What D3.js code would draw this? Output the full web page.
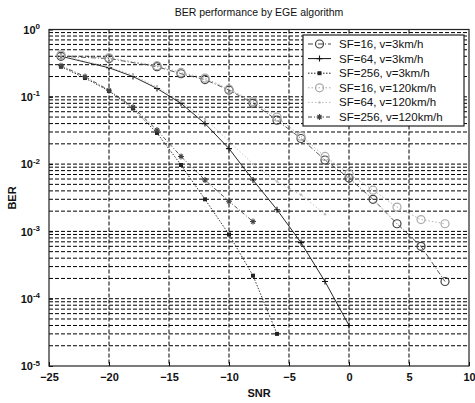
<!DOCTYPE html>
<html>
<head>
<meta charset="utf-8">
<script src="https://cdn.jsdelivr.net/npm/d3@7"></script>
<style>
  body { margin: 0; background: #fff; }
  text { font-family: "Liberation Sans", Arial, sans-serif; }
</style>
</head>
<body>
<svg id="svg1" width="475" height="403"></svg>
<script>
// data (SNR in dB, BER)
let snr16 = [-24, -20, -16, -14, -12, -10, -8, -6, -4, -2, 0, 2, 4, 6, 8];
let ber16slow = [0.40, 0.37, 0.28, 0.22, 0.18, 0.126, 0.08, 0.045, 0.024, 0.0115, 0.0062, 0.003, 0.0013, 0.0006, 0.00018];
let ber16fast = [0.42, 0.38, 0.29, 0.23, 0.19, 0.13, 0.085, 0.05, 0.026, 0.013, 0.0072, 0.0041, 0.0023, 0.0015, 0.0013];

let snr64 = [-24, -20, -18, -16, -14, -12, -10, -8, -6, -4, -2, 0];
let ber64slow = [0.40, 0.27, 0.20, 0.133, 0.08, 0.04, 0.017, 0.0058, 0.0021, 0.00068, 0.00018, 0.00004];
let snr64f = [-24, -20, -18, -16, -14, -12, -10, -8, -6, -4, -2];
let ber64fast = [0.41, 0.28, 0.21, 0.14, 0.085, 0.047, 0.022, 0.01, 0.0055, 0.0035, 0.0018];

let snr256 = [-24, -22, -20, -18, -16, -14, -12, -10, -8, -6];
let ber256slow = [0.28, 0.19, 0.122, 0.067, 0.029, 0.0097, 0.003, 0.0009, 0.00022, 0.00003];
let snr256f = [-24, -22, -20, -18, -16, -14, -12, -10, -8];
let ber256fast = [0.29, 0.2, 0.125, 0.07, 0.032, 0.013, 0.0058, 0.0028, 0.0014];

let legendLabels = ["SF=16, v=3km/h", "SF=64, v=3km/h", "SF=256, v=3km/h",
                    "SF=16, v=120km/h", "SF=64, v=120km/h", "SF=256, v=120km/h"];
let xTicks = [-25, -20, -15, -10, -5, 0, 5, 10];
let yExp = [0, -1, -2, -3, -4, -5];

let series = [
  {x: snr16, y: ber16slow, color: "#444", dash: "5,2,1,2", marker: "circle"},
  {x: snr64, y: ber64slow, color: "#111", dash: null, marker: "plus"},
  {x: snr256, y: ber256slow, color: "#222", dash: "1.5,1.5", marker: "square"},
  {x: snr16, y: ber16fast, color: "#aaa", dash: "1.5,2", marker: "circle"},
  {x: snr64f, y: ber64fast, color: "#bbb", dash: "1.5,2", marker: "dot"},
  {x: snr256f, y: ber256fast, color: "#444", dash: "4,2,1,2", marker: "star"}
];

let svg = d3.select("#svg1");
let pLeft = 49, pRight = 469, pTop = 29.5, pBottom = 366;

let x = d3.scaleLinear().domain([-25, 10]).range([pLeft, pRight]);
let y = d3.scaleLog().domain([1e-5, 1]).range([pBottom, pTop]);

// grid: vertical at major x ticks, horizontal at every log minor tick
let g = svg.append("g");
xTicks.slice(1, -1).forEach(t => {
  g.append("line").attr("x1", x(t)).attr("x2", x(t)).attr("y1", pTop).attr("y2", pBottom)
    .attr("stroke", "#000").attr("stroke-width", 1).attr("stroke-dasharray", "4,2");
});
let minor = [];
for (let e = -5; e < 0; e++) {
  for (let m = 1; m <= 9; m++) {
    if (e === -5 && m === 1) continue;
    minor.push(m * Math.pow(10, e));
  }
}
minor.forEach(v => {
  g.append("line").attr("x1", pLeft).attr("x2", pRight).attr("y1", y(v)).attr("y2", y(v))
    .attr("stroke", "#000").attr("stroke-width", 1).attr("stroke-dasharray", "4,2");
});

// axes (ticks inside, MATLAB style)
let xa = svg.append("g").attr("transform", `translate(0,${pBottom})`)
  .call(d3.axisBottom(x).tickValues(xTicks).tickSize(-4).tickPadding(7).tickFormat(d3.format("d")));
xa.select(".domain").remove();
xa.selectAll("text").style("font-size", "11px").style("font-weight", "bold").attr("fill", "#111");

let ya = svg.append("g").attr("transform", `translate(${pLeft},0)`)
  .call(d3.axisLeft(y).tickValues(yExp.map(e => Math.pow(10, e))).tickSize(-4).tickFormat(""));
ya.select(".domain").remove();
ya.selectAll(".tick").each(function(d) {
  let t = d3.select(this).append("text").attr("x", -9).attr("dy", "0.35em")
    .attr("text-anchor", "end").attr("fill", "#111")
    .style("font-size", "11px").style("font-weight", "bold");
  t.append("tspan").text("10");
  t.append("tspan").attr("dy", "-0.6em").style("font-size", "8px").text(Math.round(Math.log10(d)));
});

// plot box
svg.append("rect").attr("x", pLeft).attr("y", pTop).attr("width", pRight - pLeft).attr("height", pBottom - pTop)
  .attr("fill", "none").attr("stroke", "#222").attr("stroke-width", 1.2);

// lines and markers
let line = d3.line().x(d => x(d[0])).y(d => y(d[1]));

function drawMarker(sel, type, cx, cy, color) {
  if (type === "circle") {
    sel.append("circle").attr("cx", cx).attr("cy", cy).attr("r", 4)
      .attr("fill", "none").attr("stroke", color).attr("stroke-width", 1.2);
  } else if (type === "plus") {
    sel.append("path").attr("d", `M${cx - 3},${cy}H${cx + 3}M${cx},${cy - 3}V${cy + 3}`)
      .attr("stroke", color).attr("stroke-width", 1.1);
  } else if (type === "square") {
    sel.append("rect").attr("x", cx - 2).attr("y", cy - 2).attr("width", 4).attr("height", 4).attr("fill", color);
  } else if (type === "dot") {
    sel.append("circle").attr("cx", cx).attr("cy", cy).attr("r", 1.2).attr("fill", color);
  } else if (type === "star") {
    sel.append("path").attr("d", `M${cx - 3},${cy}H${cx + 3}M${cx},${cy - 3}V${cy + 3}M${cx - 2},${cy - 2}L${cx + 2},${cy + 2}M${cx - 2},${cy + 2}L${cx + 2},${cy - 2}`)
      .attr("stroke", color).attr("stroke-width", 1.1);
  }
}

series.forEach(s => {
  let pts = s.x.map((v, i) => [v, s.y[i]]);
  svg.append("path").datum(pts).attr("d", line).attr("fill", "none")
    .attr("stroke", s.color).attr("stroke-width", 0.9)
    .attr("stroke-dasharray", s.dash);
  let mg = svg.append("g");
  pts.forEach(p => drawMarker(mg, s.marker, x(p[0]), y(p[1]), s.color));
});

// legend
let lg = svg.append("g");
lg.append("rect").attr("x", 303).attr("y", 35).attr("width", 161).attr("height", 91)
  .attr("fill", "#fff").attr("stroke", "#222").attr("stroke-width", 1.2);
legendLabels.forEach((lab, i) => {
  let ly = 44 + i * 14.6;
  let s = series[i];
  lg.append("line").attr("x1", 308).attr("x2", 331).attr("y1", ly).attr("y2", ly)
    .attr("stroke", s.color).attr("stroke-width", 1).attr("stroke-dasharray", s.dash);
  drawMarker(lg, s.marker, 319.5, ly, s.color);
  lg.append("text").attr("x", 339).attr("y", ly).attr("dy", "0.35em")
    .style("font-size", "11.5px").attr("fill", "#111").text(lab);
});

// title and axis labels
svg.append("text").attr("x", 259).attr("y", 12).attr("dy", "0.35em").attr("text-anchor", "middle")
  .style("font-size", "10.5px").attr("fill", "#111").text("BER performance by EGE algorithm");
svg.append("text").attr("x", 259).attr("y", 393).attr("dy", "0.35em").attr("text-anchor", "middle")
  .style("font-size", "11px").style("font-weight", "bold").attr("fill", "#111").text("SNR");
svg.append("text").attr("transform", "translate(12,198) rotate(-90)").attr("dy", "0.35em")
  .attr("text-anchor", "middle").style("font-size", "11px").style("font-weight", "bold")
  .attr("fill", "#111").text("BER");
</script>
</body>
</html>
